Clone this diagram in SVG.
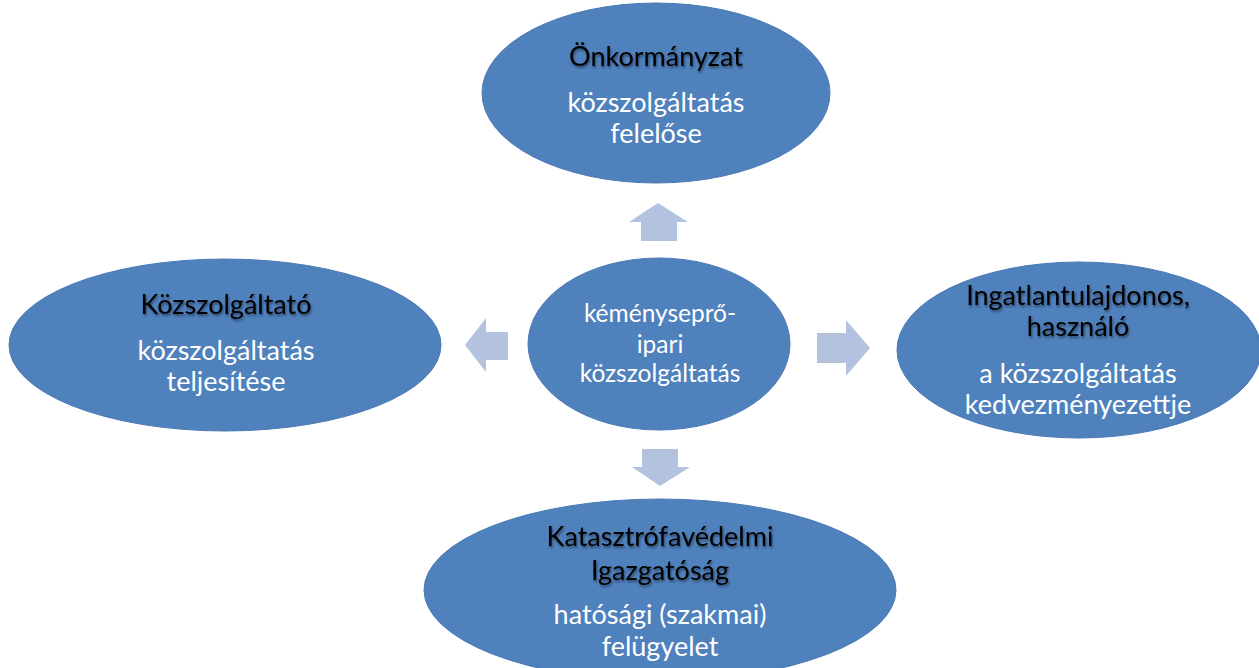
<svg xmlns="http://www.w3.org/2000/svg" width="1259" height="668" viewBox="0 0 1259 668">
<defs>
<filter id="sh" x="-10%" y="-30%" width="120%" height="160%">
<feGaussianBlur in="SourceAlpha" stdDeviation="1.2"/>
<feOffset dx="1" dy="1.5" result="b"/>
<feFlood flood-color="#000" flood-opacity="0.45"/>
<feComposite in2="b" operator="in"/>
<feMerge><feMergeNode/><feMergeNode in="SourceGraphic"/></feMerge>
</filter>
</defs>
<style>
.n{fill:#4F81BD;stroke:#4A7AB3;stroke-width:1}
.a{fill:#B3C3DF}
text{font-family:Lato,"Open Sans","Liberation Sans",sans-serif;text-anchor:middle;font-size:27px}
.t{fill:#000;filter:url(#sh)}
.d{fill:#fff}
.c{font-size:24.5px}
</style>
<rect width="1259" height="668" fill="#fff"/>
<g id="connectors">
<polygon class="a" points="658,203 688,222 677,222 677,241 641,241 641,222 629,222"/>
<polygon class="a" points="660,486 690,467 678,467 678,449 642,449 642,467 632,467"/>
<polygon class="a" points="465,345 486,318 486,332 508,332 508,360 486,360 486,372"/>
<polygon class="a" points="870,348 846,320 846,333 817,333 817,363 846,363 846,376"/>
</g>
<g id="onkormanyzat">
<ellipse class="n" cx="656" cy="93" rx="174" ry="90"/>
<text class="t" x="656" y="66">Önkormányzat</text>
<text class="d" x="656" y="112">közszolgáltatás</text>
<text class="d" x="656" y="143">felelőse</text>
</g>
<g id="kozszolgaltato">
<ellipse class="n" cx="225" cy="345" rx="216" ry="86"/>
<text class="t" x="226" y="314">Közszolgáltató</text>
<text class="d" x="226" y="360">közszolgáltatás</text>
<text class="d" x="226" y="391">teljesítése</text>
</g>
<g id="ingatlan">
<ellipse class="n" cx="1079" cy="350" rx="182" ry="88"/>
<text class="t" x="1078" y="305">Ingatlantulajdonos,</text>
<text class="t" x="1078" y="336">használó</text>
<text class="d" x="1078" y="383">a közszolgáltatás</text>
<text class="d" x="1078" y="414">kedvezményezettje</text>
</g>
<g id="katasztrofavedelem">
<ellipse class="n" cx="660" cy="590" rx="236" ry="91"/>
<text class="t" x="660" y="546">Katasztrófavédelmi</text>
<text class="t" x="660" y="580">Igazgatóság</text>
<text class="d" x="660" y="624">hatósági (szakmai)</text>
<text class="d" x="660" y="656">felügyelet</text>
</g>
<g id="kemenysepro">
<ellipse class="n" cx="659" cy="344" rx="131" ry="86"/>
<text class="d c" x="660" y="322">kéményseprő-</text>
<text class="d c" x="660" y="353">ipari</text>
<text class="d c" x="660" y="382">közszolgáltatás</text>
</g>
</svg>
